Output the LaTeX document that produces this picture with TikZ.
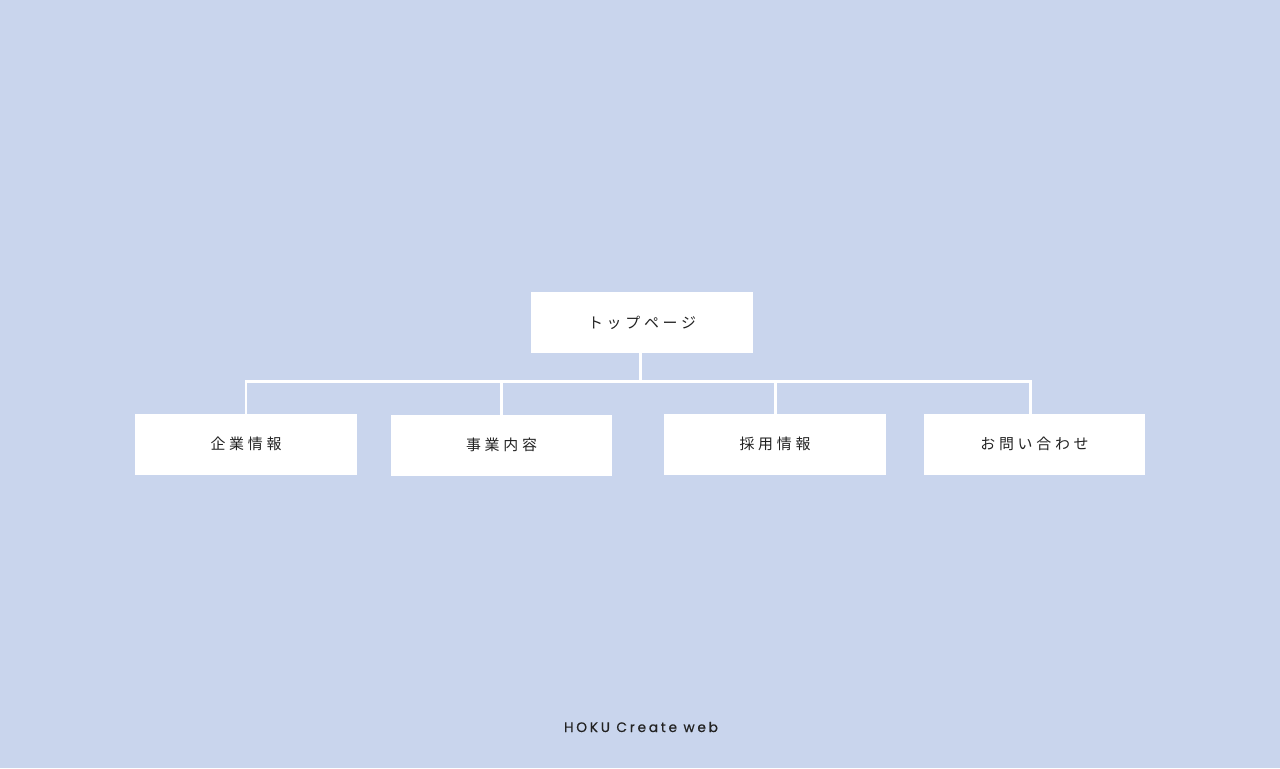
\documentclass[tikz,border=0pt]{standalone}
\usepackage{fontspec}
\usepackage{xcolor}
\setsansfont{Poppins}
\newfontfamily\jpfont[LetterSpace=25]{Noto Sans CJK JP}
\newfontfamily\footfont[LetterSpace=20,FakeBold=0.4]{Poppins}
\usetikzlibrary{positioning,calc}
\definecolor{bgblue}{HTML}{C9D5ED}
\definecolor{inkgray}{HTML}{222222}
\tikzset{
    page/.style={rectangle, draw=none, fill=white, minimum width=4.44cm, minimum height=1.22cm, inner sep=0pt, text=inkgray, font=\jpfont\fontsize{8.5}{10}\selectfont},
    link/.style={draw=white, line width=1.7pt, line cap=rect},
    credit/.style={text=inkgray, font=\footfont\fontsize{7.8}{9}\selectfont}
}

\begin{document}
\begin{tikzpicture}[x=0.02cm, y=-0.02cm]

% Background
\fill[bgblue] (0,0) rectangle (1280,768);
\useasboundingbox (0,0) rectangle (1280,768);

% Pages
\node[page] (top) at (642,322.5) {トップページ};
\node[page] (kigyo) at (246,444) {企業情報};
\node[page] (jigyo) at (501.5,445) {事業内容};
\node[page] (saiyo) at (775,444) {採用情報};
\node[page] (toiawase) at (1034.5,444) {お問い合わせ};

% Tree lines
\coordinate (bus) at (640,381);
\coordinate (lastdrop) at ([xshift=-2.5]toiawase.north);
\draw[link] (top.south -| bus) -- (bus);
\draw[link] (kigyo.north |- bus) -- (lastdrop |- bus);
\draw[link] (kigyo.north) -- (kigyo.north |- bus);
\draw[link] (jigyo.north) -- (jigyo.north |- bus);
\draw[link] (saiyo.north) -- (saiyo.north |- bus);
\draw[link] (lastdrop) -- (lastdrop |- bus);

% Footer
\node[credit] (footer) at (641,727) {HOKU Create web};

\end{tikzpicture}
\end{document}
